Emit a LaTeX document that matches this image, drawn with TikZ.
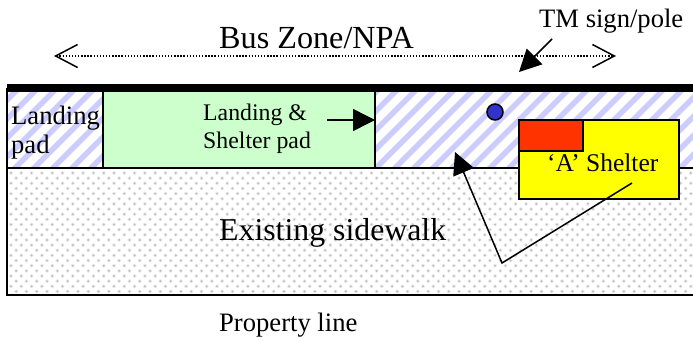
\documentclass[tikz,border=0pt]{standalone}
\usepackage{fontspec}
\setmainfont{Liberation Serif}
\usetikzlibrary{arrows.meta}
\tikzset{
  box/.style={draw=black,line width=1.6pt,inner sep=0pt,outer sep=0pt,anchor=north west},
  lbl/.style={inner sep=0pt,text=black,align=left},
  bigtip/.style={-{Triangle[length=22pt,width=22pt]},line width=1.5pt},
  barb/.style={{Straight Barb[length=22pt,width=23pt,line width=1.5pt]}-{Straight Barb[length=22pt,width=23pt,line width=1.5pt]},line width=1.3pt,dash pattern=on 1.4pt off 1.7pt},
}
\definecolor{stripe}{HTML}{CCCCFF}
\definecolor{padgreen}{HTML}{CCFFCC}
\definecolor{shelter}{HTML}{FFFF00}
\definecolor{redbox}{HTML}{FF3300}
\definecolor{pole}{HTML}{3333CC}
\begin{document}
\begin{tikzpicture}[x=1pt,y=-1pt]
\useasboundingbox (0,0) rectangle (693,341);
% hatched strip
\begin{scope}
\clip (7,91) rectangle (693,168);
\foreach \i in {0,...,42}{
  \draw[stripe,line width=5.5pt] ({\i*19-90},178) -- ({\i*19+8},80);
}
\end{scope}
% dotted sidewalk
\begin{scope}
\clip (7,168) rectangle (693,295);
\foreach \r in {0,...,25}{
  \pgfmathsetmacro{\off}{mod(\r,2)*5.15}
  \foreach \c in {0,...,67}{
    \fill[black!7] ({11+\c*10.3+\off},{173+\r*5.15}) circle (2pt);
    \fill[black!26] ({11+\c*10.3+\off},{173+\r*5.15}) circle (1.1pt);
  }
}
\end{scope}
% frame lines
\coordinate (tl) at (7,168);
\coordinate (tr) at (693,168);
\coordinate (top) at (7,87.8);
\coordinate (topr) at (693,87.8);
\coordinate (bl) at (7,295);
\coordinate (br) at (693,295);
\draw[line width=1.6pt] (tl) -- (tr);
\draw[line width=1.6pt] (top) -- (bl) -- (br);
% pads
\node[box,minimum width=272pt,minimum height=77pt,fill=padgreen] (pad) at (103,91) {};
\draw[line width=8pt] (top) -- (topr);
\node[lbl,anchor=base west,font=\fontsize{26.6}{26.6}\selectfont] (lp1) at (11,124) {Landing};
\node[lbl,anchor=base west,font=\fontsize{26.6}{26.6}\selectfont] (lp2) at (11,153) {pad};
\node[lbl,anchor=base west,font=\fontsize{23.8}{23.8}\selectfont] (sp1) at (203,120) {Landing \&};
\node[lbl,anchor=base west,font=\fontsize{23.8}{23.8}\selectfont] (sp2) at (203,148) {Shelter pad};
% shelter
\node[box,minimum width=160pt,minimum height=79pt,fill=shelter] (shel) at (519,120) {};
\node[box,minimum width=64pt,minimum height=31pt,fill=redbox] (red) at (519,120) {};
\node[lbl,anchor=base west,font=\fontsize{25.5}{25.5}\selectfont] (as) at (547,171) {‘A’ Shelter};
% pole
\node[circle,draw=black,line width=1.5pt,fill=pole,minimum size=16pt,inner sep=0pt] (polec) at (495,112) {};
% texts
\node[lbl,anchor=base west,font=\fontsize{32.2}{32.2}\selectfont] (bz) at (219,48) {Bus Zone/NPA};
\node[lbl,anchor=base west,font=\fontsize{26.6}{26.6}\selectfont] (tm) at (539,27) {TM sign/pole};
\node[lbl,anchor=base west,font=\fontsize{31.8}{31.8}\selectfont] (ex) at (219,240) {Existing sidewalk};
\node[lbl,anchor=base west,font=\fontsize{26.6}{26.6}\selectfont] (pl) at (219,331) {Property line};
% connectors
\coordinate (bzl) at (54,56);
\coordinate (bzr) at (616,56);
\draw[barb] (bzl) -- (bzr);
\coordinate (tm1) at (552,39);
\coordinate (tm2) at (519,72);
\draw[bigtip] (tm1) -- (tm2);
\coordinate (la1) at (327,120);
\coordinate (la2) at (375,120);
\draw[bigtip] (la1) -- (la2);
\coordinate (sh1) at (632,183);
\coordinate (sh2) at (502,263);
\coordinate (sh3) at (455,152);
\draw[bigtip,line join=miter] (sh1) -- (sh2) -- (sh3);
\end{tikzpicture}
\end{document}
